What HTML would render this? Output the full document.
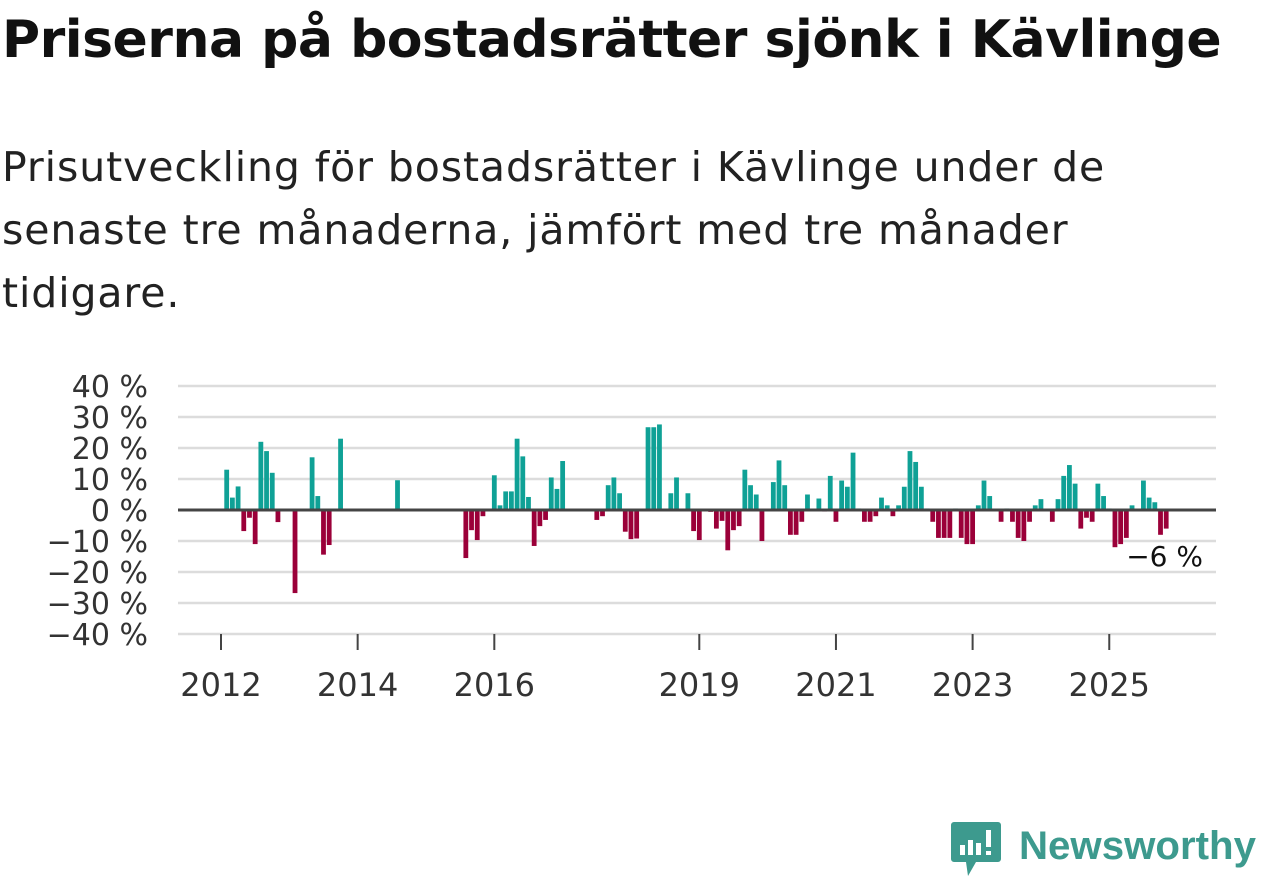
<!DOCTYPE html>
<html><head><meta charset="utf-8">
<style>
body{margin:0;background:#fff;width:1262px;height:879px;overflow:hidden;font-family:"DejaVu Sans","Liberation Sans",sans-serif;}
h1{position:absolute;left:2px;top:10px;margin:0;font-size:52px;font-weight:bold;color:#111;white-space:nowrap;letter-spacing:-0.5px;}
.sub{position:absolute;left:2px;top:136px;margin:0;font-size:41px;line-height:63px;color:#222;width:1260px;letter-spacing:0.9px;white-space:nowrap;}
svg{position:absolute;left:0;top:0;}
</style></head><body>
<h1>Priserna på bostadsrätter sjönk i Kävlinge</h1>
<p class="sub">Prisutveckling för bostadsrätter i Kävlinge under de<br>senaste tre månaderna, jämfört med tre månader<br>tidigare.</p>
<svg width="1262" height="879" id="chart">
<g id="grid"></g><g id="bars"></g><g id="axes"></g>
<text x="1203" y="566" text-anchor="end" font-size="28" fill="#111">−6 %</text>
<g>
<path d="M954 822 h44 a3 3 0 0 1 3 3 v34 a3 3 0 0 1 -3 3 h-22 l-8 14 l-2 -14 h-12 a3 3 0 0 1 -3 -3 v-34 a3 3 0 0 1 3 -3z" fill="#3d9a8e"/>
<rect x="960" y="845" width="5" height="10" fill="#fff"/><rect x="968" y="840" width="5" height="15" fill="#fff"/><rect x="976" y="843" width="5" height="12" fill="#fff"/><rect x="986" y="830" width="5" height="17" fill="#fff"/><rect x="986" y="851" width="5" height="4" fill="#fff"/>
<text x="1019" y="859" font-size="40" fill="#3d9a8e" textLength="237" lengthAdjust="spacingAndGlyphs" font-family="Liberation Sans" font-weight="bold">Newsworthy</text>
</g>
</svg>
<script>
const years=["2012","2014","2016","2019","2021","2023","2025"];
const yearIdx=[0,24,48,84,108,132,156];
const yTicks=[40,30,20,10,0,-10,-20,-30,-40];
const values=[
null,13,4,7.6,-6.8,-2.5,-11,22,19,12,-3.9,null,
null,-26.8,null,null,17,4.5,-14.4,-11.3,null,23,null,null,
null,null,null,null,null,null,null,9.6,null,null,null,null,
null,null,null,null,null,null,null,-15.5,-6.5,-9.7,-2,null,
11.2,1.5,6,6,23,17.3,4.2,-11.6,-5.2,-3.2,10.5,6.8,
15.8,null,null,null,null,null,-3.2,-2,8,10.5,5.4,-7,
-9.4,-9.2,null,26.7,26.7,27.6,null,5.4,10.5,null,5.4,-6.8,
-9.7,null,-0.6,-6,-3.5,-13,-6.5,-5.2,13,8,5,-10,
null,9,16,8,-8,-8,-3.8,5,-0.4,3.7,-0.5,11,
-3.8,9.5,7.5,18.5,0.5,-3.8,-3.8,-2,4,1.5,-2,1.5,
7.5,19,15.5,7.5,0.5,-3.8,-9,-9,-9,0.5,-9,-11,
-11,1.5,9.5,4.5,null,-3.8,0.5,-3.8,-9,-10,-3.8,1.5,
3.5,null,-3.8,3.5,11,14.5,8.5,-6,-2.5,-3.8,8.5,4.5,
0.5,-12,-11,-9,1.5,null,9.5,4,2.5,-8,-6];
const NS="http://www.w3.org/2000/svg";
const x=i=>221+i*5.694;
const y=v=>510-v*3.1;
function mk(t,a,p){const e=document.createElementNS(NS,t);for(const k in a)e.setAttribute(k,a[k]);p.appendChild(e);return e;}
const grid=document.getElementById('grid'),bars=document.getElementById('bars'),axes=document.getElementById('axes');
yTicks.forEach(t=>{
  if(t!==0){const l=mk('line',{x1:178,x2:1216,y1:y(t),y2:y(t),stroke:'#dcdcdc','stroke-width':2.5},grid);
  
  }
  const tx=mk('text',{x:148,y:y(t)+11,'text-anchor':'end','font-size':30,fill:'#333'},axes);
  tx.textContent=(t<0?'−'+(-t):t)+' %';
  
  
});
values.forEach((v,i)=>{
  if(v===null)return;
  const r=mk('rect',{x:x(i)-2.4,width:4.8,y:Math.min(y(v),510),height:Math.abs(y(v)-510),fill:v>=0?'#0fa196':'#9b0039'},bars);
  
  
});
const z=mk('line',{x1:178,x2:1216,y1:510,y2:510,stroke:'#444','stroke-width':3},axes);


years.forEach((yr,k)=>{
  const xi=x(yearIdx[k]);
  const tk=mk('line',{x1:xi,x2:xi,y1:634,y2:650,stroke:'#444','stroke-width':2},axes);
  
  
  const tx=mk('text',{x:xi,y:696,'text-anchor':'middle','font-size':32,fill:'#333'},axes);
  tx.textContent=yr;
  
  
});
</script>
</body></html>
